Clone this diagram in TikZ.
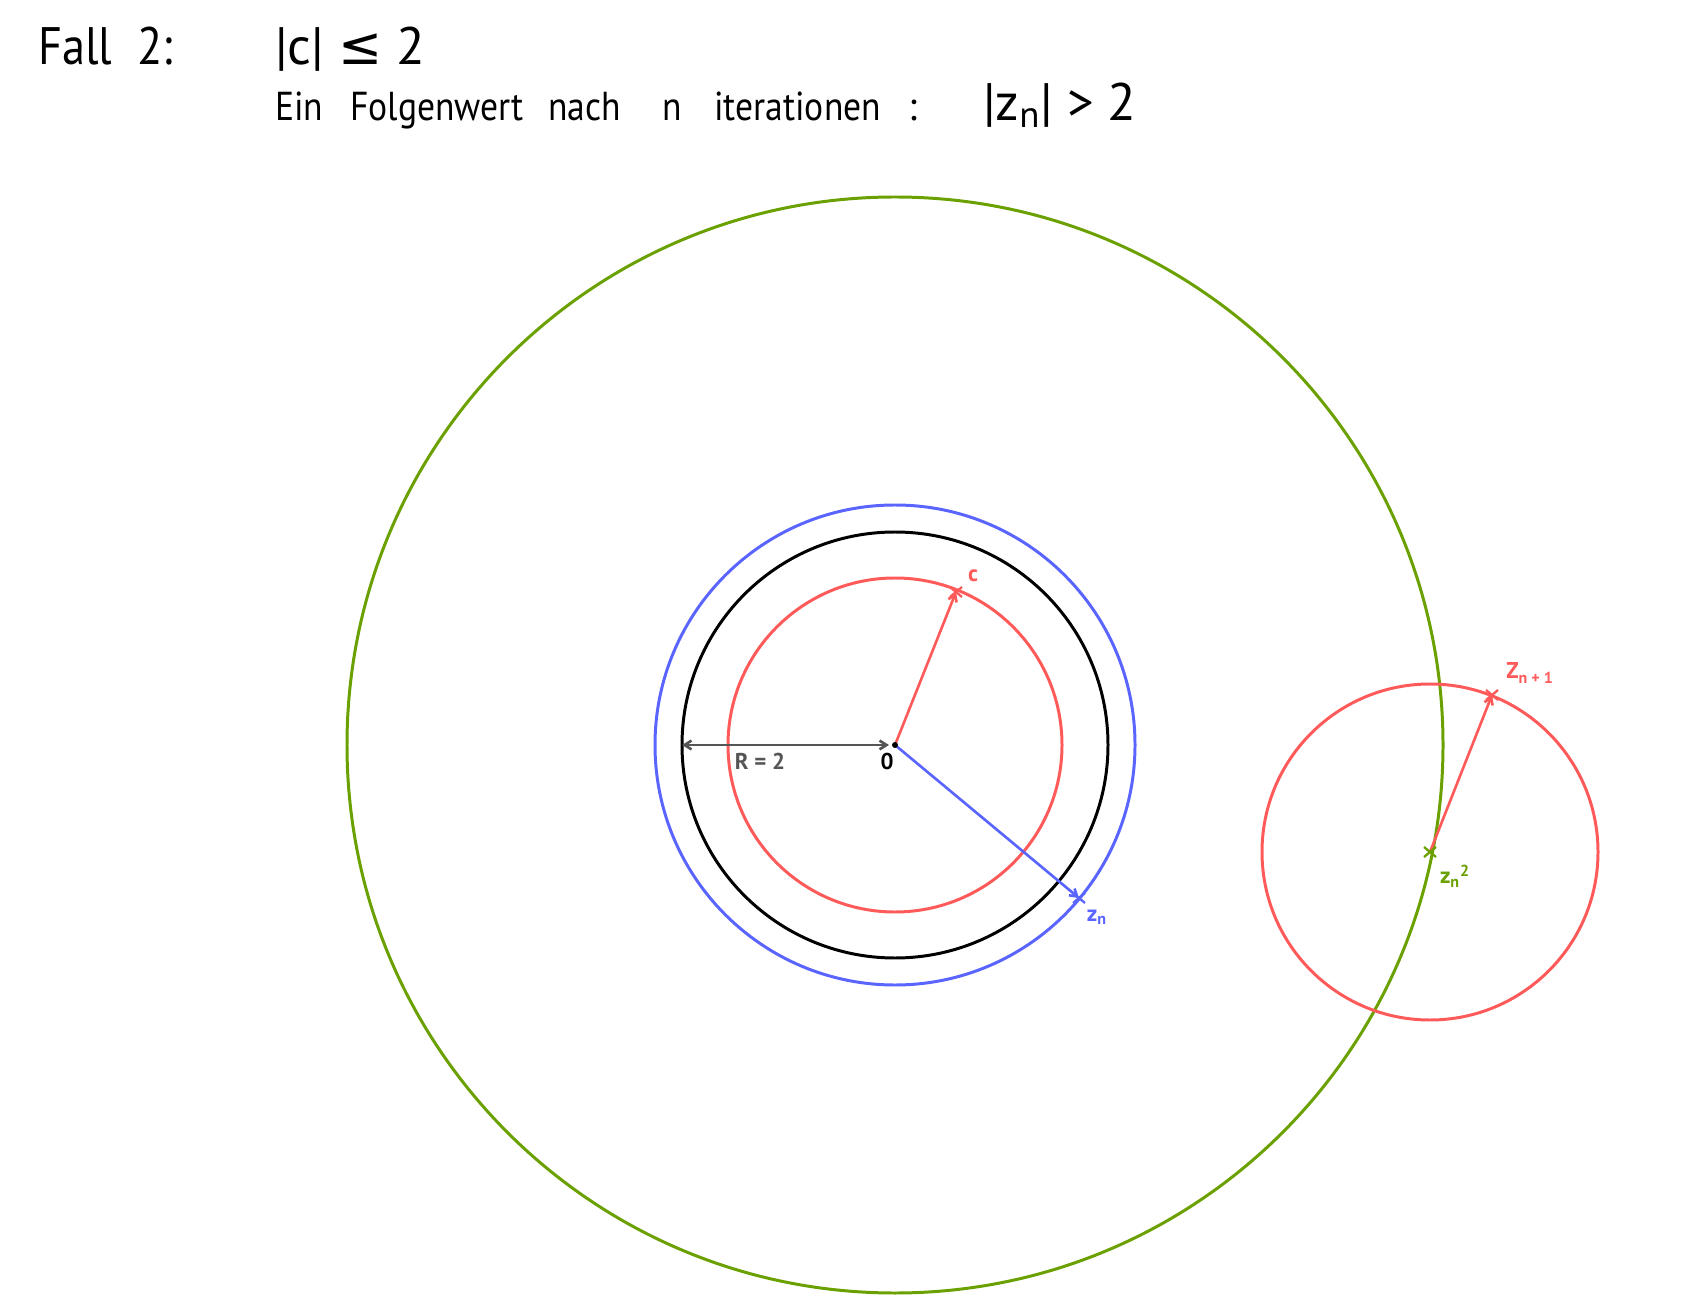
\documentclass[tikz,border=0pt]{standalone}
\usepackage{fontspec}
\setmainfont{PT Sans}
\newfontfamily\symf{DejaVu Sans}
\usetikzlibrary{arrows.meta,calc}
\definecolor{cgreen}{RGB}{106,160,0}
\definecolor{cred}{RGB}{255,90,90}
\definecolor{cblue}{RGB}{90,100,255}
\definecolor{cgray}{RGB}{85,85,85}
\newcommand{\narrow}[1]{\scalebox{0.88}[1]{#1}}
\begin{document}
\begin{tikzpicture}[x=0.02cm,y=-0.02cm,
  circ/.style={line width=1.7pt},
  vec/.style={line width=1.5pt,-{Straight Barb[length=4pt,width=5pt]}},
  xmark/.style={line width=1.3pt},
  big/.style={font=\fontsize{30}{34}\selectfont,anchor=base west,inner sep=0pt},
  mid/.style={font=\fontsize{23}{26}\selectfont,anchor=base west,inner sep=0pt},
  lbl/.style={font=\fontsize{13}{15}\selectfont\bfseries,inner sep=0pt}]
\useasboundingbox (0,0) rectangle (1690,1310);
% header
\node[big] (fall) at (38,65) {\narrow{Fall\ \ 2:}};
\node[big] (cond) at (275,65) {|c|\ {\symf ≤}\ 2};
\node[mid] (w1) at (275,121) {\narrow{Ein}};
\node[mid] (w2) at (350,121) {\narrow{Folgenwert}};
\node[mid] (w3) at (548,121) {\narrow{nach}};
\node[mid] (w4) at (662,121) {\narrow{n}};
\node[mid] (w5) at (714,121) {\narrow{iterationen}};
\node[mid] (w6) at (908,121) {:};
\node[big] (w7) at (983,121) {|z\textsubscript{n}|\ >\ 2};
% geometry
\coordinate (O) at (895,745);
\coordinate (C) at (956,592);
\coordinate (Zn) at (1079,898);
\coordinate (Z2) at (1430,852);
\coordinate (Zn1) at (1492,695);
\coordinate (L) at (682,745);
\draw[circ,cgreen] (O) circle[radius=548];
\draw[circ,cblue] (O) circle[radius=240];
\draw[circ,black] (O) circle[radius=213];
\draw[circ,cred] (O) circle[radius=167];
\draw[circ,cred] (Z2) circle[radius=168];
% vectors
\draw[line width=1.5pt,cgray,{Straight Barb[length=4pt,width=5pt]}-{Straight Barb[length=4pt,width=5pt]}] (L) -- (889,745);
\draw[vec,cred] (O) -- (C);
\draw[vec,cblue] (O) -- (Zn);
\draw[vec,cred] (Z2) -- (Zn1);
\fill (O) circle[radius=3];
% crosses
\foreach \p/\c in {C/cred,Zn/cblue,Z2/cgreen,Zn1/cred}{
  \draw[xmark,\c] ($(\p)+(-6,-5)$) -- ($(\p)+(6,5)$);
  \draw[xmark,\c] ($(\p)+(-6,5)$) -- ($(\p)+(6,-5)$);
}
% labels
\node[lbl,cgray] (rl) at (760,761) {R = 2};
\node[lbl,black] (ol) at (887,762) {0};
\node[lbl,cred] (cl) at (973,576) {c};
\node[lbl,cblue] (znl) at (1097,917) {z\textsubscript{n}};
\node[lbl,cgreen] (z2l) at (1455,876) {z\textsubscript{n}\textsuperscript{2}};
\node[lbl,cred] (zn1l) at (1530,673) {Z\textsubscript{n + 1}};
\end{tikzpicture}
\end{document}
